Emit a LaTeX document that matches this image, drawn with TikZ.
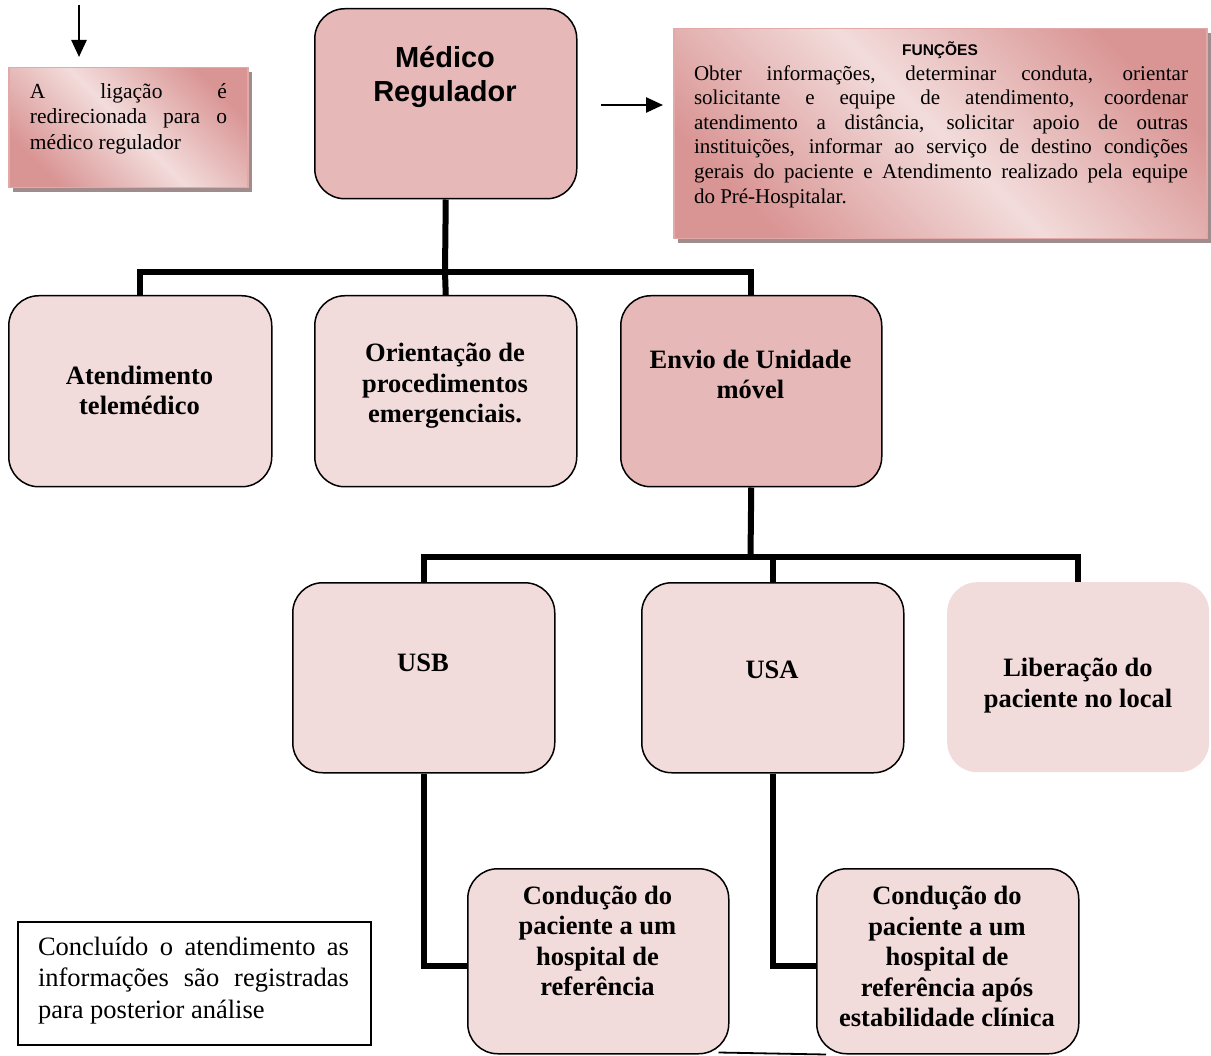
\documentclass[tikz,border=0pt]{standalone}
\usepackage{fontspec}
\setmainfont{Liberation Serif}
\setsansfont{Liberation Sans}
\usetikzlibrary{arrows.meta,shadows}
\definecolor{lightpink}{HTML}{F2DCDB}
\definecolor{midpink}{HTML}{E6B8B7}
\definecolor{darkpink}{HTML}{D99594}
\definecolor{shadowc}{HTML}{A08C8C}
\begin{document}
\begin{tikzpicture}[x=1pt,y=-1pt,
  box/.style={draw=black, line width=1.5pt, rounded corners=30pt, inner sep=0pt, anchor=north west},
  lightbox/.style={box, fill=lightpink},
  midbox/.style={box, fill=midpink},
  gradbox/.style={draw=darkpink!80, line width=1.5pt, left color=darkpink, right color=darkpink,
    middle color=lightpink, shading angle=-45, inner sep=0pt, anchor=north west,
    drop shadow={shadow xshift=4pt, shadow yshift=-4pt, fill=shadowc, opacity=1}},
  btext/.style={align=center, inner sep=0pt, font={\fontsize{26.5}{30.5}\selectfont\bfseries}},
  stext/.style={align=center, inner sep=0pt, font={\sffamily\bfseries\fontsize{29}{34}\selectfont}},
  jtext/.style={align=justify, inner sep=0pt},
  conn/.style={line width=6pt, black},
  arr/.style={line width=2.5pt, -{Triangle[length=17pt,width=15pt]}, shorten >=10pt}
]
\useasboundingbox (0,0) rectangle (1211,1056);

% main boxes
\node[midbox, minimum width=262pt, minimum height=190pt] (med) at (314,8) {};
\node[stext] (medt) at (445,77) {Médico\\Regulador};

\node[gradbox, minimum width=239pt, minimum height=120pt] (lig) at (8,67) {};
\node[jtext, text width=197pt, font={\fontsize{21.5}{25.5}\selectfont}] (ligt) at (128.5,118.5)
  {\hyphenpenalty=10000 A ligação é\linebreak redirecionada para o\linebreak médico regulador};

\node[gradbox, minimum width=533pt, minimum height=210pt] (func) at (673,28) {};
\node[inner sep=0pt, font={\sffamily\bfseries\fontsize{15.5}{18}\selectfont}] (funh) at (940,50) {FUNÇÕES};
\node[jtext, text width=494pt, font={\fontsize{21}{24.6}\selectfont}] (funt) at (941,136.5)
  {\hyphenpenalty=10000 Obter informações, determinar conduta, orientar\linebreak solicitante e equipe de atendimento, coordenar\linebreak atendimento a distância, solicitar apoio de outras\linebreak instituições, informar ao serviço de destino condições\linebreak gerais do paciente e Atendimento realizado pela equipe\linebreak do Pré-Hospitalar.};

% row 2
\node[lightbox, minimum width=263pt, minimum height=191pt] (ate) at (8,295) {};
\node[btext] (atet) at (139.5,390.5) {Atendimento\\telemédico};
\node[lightbox, minimum width=262pt, minimum height=191pt] (ori) at (314,295) {};
\node[btext] (orit) at (445,386) {Orientação de\\procedimentos\\emergenciais.};
\node[midbox, minimum width=261pt, minimum height=191pt] (env) at (620,295) {};
\node[btext] (envt) at (750.5,374.5) {Envio de Unidade\\móvel};

% row 3
\node[lightbox, minimum width=262pt, minimum height=190pt] (usb) at (292,582) {};
\node[btext] (usbt) at (423,663) {USB};
\node[lightbox, minimum width=262pt, minimum height=190pt] (usa) at (641,582) {};
\node[btext] (usat) at (772,670) {USA};
\node[fill=lightpink, rounded corners=30pt, inner sep=0pt, anchor=north west, minimum width=262pt, minimum height=190pt] (lib) at (947,582) {};
\node[btext] (libt) at (1078,685.5) {Liberação do\\paciente no local};

% row 4
\node[lightbox, minimum width=261pt, minimum height=185pt] (c1) at (467,868) {};
\node[btext] (c1t) at (597.5,941) {Condução do\\paciente a um\\hospital de\\referência};
\node[lightbox, minimum width=262pt, minimum height=185pt] (c2) at (816,868) {};
\node[btext] (c2t) at (947,956.5) {Condução do\\paciente a um\\hospital de\\referência após\\estabilidade clínica};

% note box
\node[draw=black, line width=1.5pt, fill=white, inner sep=0pt, anchor=north west, minimum width=353pt, minimum height=123pt] (note) at (17,921) {};
\node[jtext, text width=311pt, font={\fontsize{26.5}{31.5}\selectfont}] (notet) at (193.5,980.5)
  {\hyphenpenalty=10000 Concluído o atendimento as\linebreak informações são registradas\linebreak para posterior análise};

% connectors
\coordinate (b1) at (445,272);
\draw[conn] (med.south) -- (b1);
\draw[conn] (ate.north) |- (b1) -| (env.north);
\draw[conn] (ori.north) -- (b1);

\coordinate (b2) at (750.5,557);
\draw[conn] (env.south) -- (b2);
\draw[conn] (usb.north) |- (b2) -| (lib.north);
\draw[conn] (usa.north) -- (usa.north |- b2);

\draw[conn] (usb.south) |- ([yshift=-4.5pt]c1.west);
\draw[conn] (usa.south) |- ([yshift=-4.5pt]c2.west);

\draw[line width=1.8pt] ([xshift=-11pt,yshift=2pt]c1.south east) -- ([xshift=10pt]c2.south west);

% arrows
\coordinate (a0) at (79,5);
\draw[arr] (a0) -- (a0 |- lig.north);
\coordinate (a1) at (601,105);
\draw[arr] (a1) -- (a1 -| func.west);
\end{tikzpicture}
\end{document}
